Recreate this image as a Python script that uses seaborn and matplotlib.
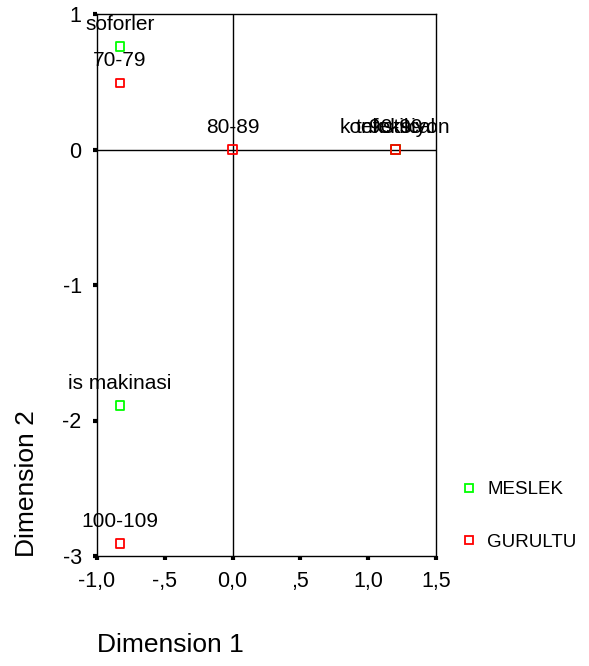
import matplotlib
matplotlib.use("Agg")
import matplotlib.pyplot as plt
import seaborn as sns
import pandas as pd
from matplotlib.lines import Line2D

# Data
meslek_labels = ["soforler", "is makinasi", "konfeksiyon", "tekstilcal"]
meslek_dim1 = [-0.83, -0.83, 1.20, 1.20]
meslek_dim2 = [0.76, -1.89, 0.0, 0.0]

gurultu_labels = ["70-79", "80-89", "90-99", "100-109"]
gurultu_dim1 = [-0.83, 0.0, 1.20, -0.83]
gurultu_dim2 = [0.49, 0.0, 0.0, -2.91]

x_ticks = [-1.0, -0.5, 0.0, 0.5, 1.0, 1.5]
x_tick_labels = ["-1,0", "-,5", "0,0", ",5", "1,0", "1,5"]
y_ticks = [1, 0, -1, -2, -3]
y_tick_labels = ["1", "0", "-1", "-2", "-3"]

df = pd.DataFrame({
    "dim1": meslek_dim1 + gurultu_dim1,
    "dim2": meslek_dim2 + gurultu_dim2,
    "label": meslek_labels + gurultu_labels,
    "group": ["MESLEK"] * len(meslek_labels) + ["GURULTU"] * len(gurultu_labels),
})

sns.set_style("white")
plt.rcParams["font.family"] = ["Liberation Sans", "DejaVu Sans"]
plt.rcParams["text.color"] = "black"

fig = plt.figure(figsize=(5.89, 6.66), dpi=100)
ax = fig.add_axes([97 / 589, 110 / 666, 339 / 589, 542 / 666])

palette = {"MESLEK": "#00ff00", "GURULTU": "#ff0000"}
sns.scatterplot(data=df, x="dim1", y="dim2", hue="group", palette=palette,
                marker="s", s=40, linewidth=1.3, ax=ax, legend=False, zorder=5)
coll = ax.collections[0]
coll.set_edgecolors([palette[g] for g in df["group"]])
coll.set_facecolors("none")

ax.axhline(0, color="black", linewidth=1, zorder=1)
ax.axvline(0, color="black", linewidth=1, zorder=1)

for _, r in df.iterrows():
    ax.annotate(r["label"], (r["dim1"], r["dim2"]), xytext=(0, 16),
                textcoords="offset points", ha="center", va="center",
                fontsize=15, color="black", zorder=6)

ax.set_xlim(-1.0, 1.5)
ax.set_ylim(-3.0, 1.0)
ax.set_xticks(x_ticks)
ax.set_xticklabels(x_tick_labels, fontsize=15.5, color="black")
ax.set_yticks(y_ticks)
ax.set_yticklabels(y_tick_labels, fontsize=15.5, color="black")
ax.tick_params(axis="both", which="major", direction="out", length=3, width=3,
               color="black", bottom=True, left=True)
ax.tick_params(axis="x", pad=8)
ax.tick_params(axis="y", pad=8)
for sp in ax.spines.values():
    sp.set_color("black")
    sp.set_linewidth(1)
    sp.set_visible(True)
ax.set_xlabel("")
ax.set_ylabel("")

fig.text(97 / 589, 1 - 645 / 666, "Dimension 1", fontsize=19, ha="left", va="center")
fig.text(27 / 589, 1 - 557 / 666, "Dimension 2", fontsize=19, rotation=90,
         ha="center", va="bottom")

handles = [Line2D([], [], marker="s", linestyle="none", markersize=6,
                  markerfacecolor="none", markeredgecolor=palette[g], markeredgewidth=1.3)
           for g in ["MESLEK", "GURULTU"]]
fig.legend(handles, ["MESLEK", "GURULTU"], loc="center left",
           bbox_to_anchor=(443 / 589, 1 - 516 / 666), frameon=False,
           fontsize=13.5, labelspacing=1.9, handletextpad=0.45, handlelength=1.0)

fig.savefig("out.png", dpi=100)
